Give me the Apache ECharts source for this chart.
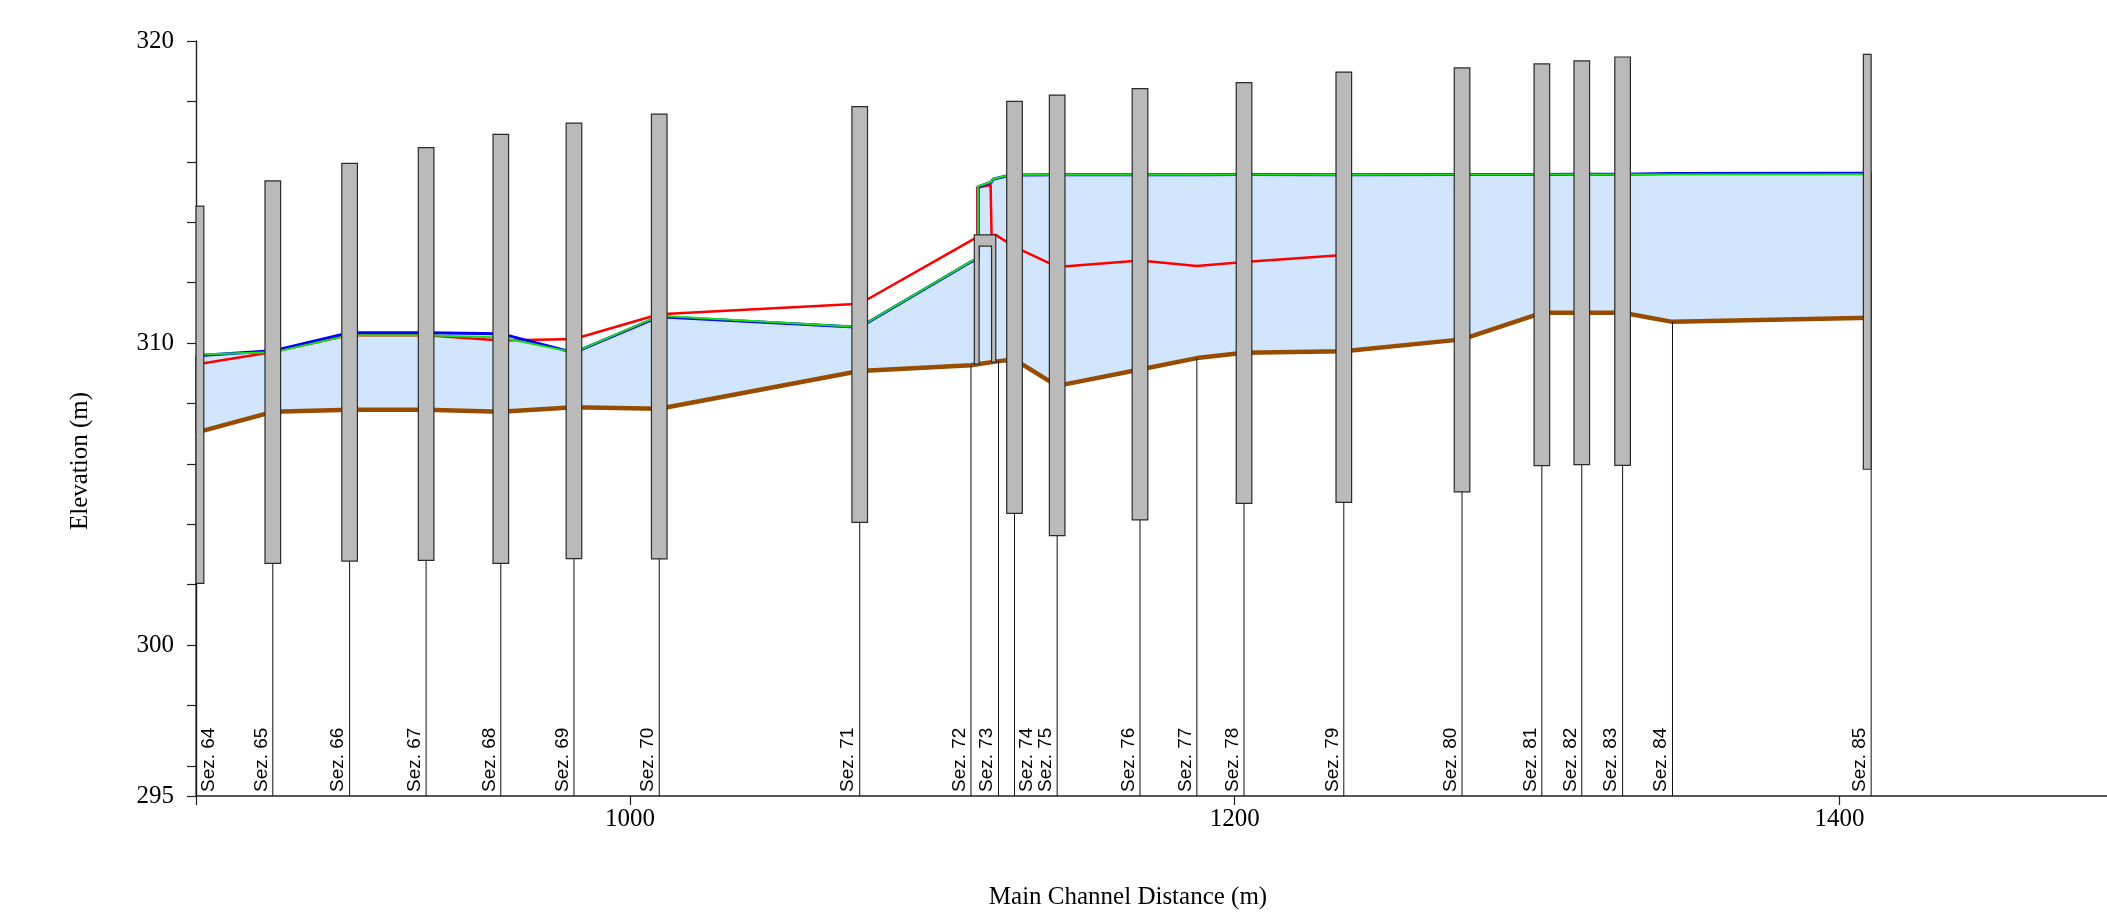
<!DOCTYPE html>
<html><head><meta charset="utf-8">
<script src="https://cdn.jsdelivr.net/npm/echarts@6/dist/echarts.min.js"></script>
<style>html,body{margin:0;padding:0;background:#fff}#c{width:2107px;height:924px}</style>
</head><body><div id="c"></div>
<script>
// ---- data ----
const sectionNames = ['Sez. 64','Sez. 65','Sez. 66','Sez. 67','Sez. 68','Sez. 69','Sez. 70','Sez. 71','Sez. 72','Sez. 73','Sez. 74','Sez. 75','Sez. 76','Sez. 77','Sez. 78','Sez. 79','Sez. 80','Sez. 81','Sez. 82','Sez. 83','Sez. 84','Sez. 85'];
const sectionDist = [856.5, 881.9, 907.3, 932.6, 957.3, 981.5, 1009.7, 1076.0, 1112.8, 1121.9, 1127.2, 1141.3, 1168.7, 1187.5, 1203.1, 1236.1, 1275.2, 1301.6, 1314.8, 1328.3, 1344.8, 1410.5];
const groundElev = [307.03, 307.72, 307.79, 307.79, 307.72, 307.87, 307.82, 309.07, 309.26, 309.40, 309.45, 308.58, 309.12, 309.50, 309.68, 309.73, 310.12, 311.00, 311.00, 311.00, 310.70, 310.84];
const barTop = [314.53, 315.37, 315.95, 316.47, 316.91, 317.28, 317.58, 317.83, null, null, 318.00, 318.21, 318.42, null, 318.62, 318.97, 319.11, 319.24, 319.34, 319.47, null, 319.56];
const barBottom = [302.04, 302.70, 302.78, 302.80, 302.70, 302.86, 302.85, 304.06, null, null, 304.36, 303.62, 304.14, null, 304.69, 304.72, 305.07, 305.94, 305.97, 305.95, null, 305.82];

const wsBlue = [[856.5,309.58],[881.9,309.74],[907.3,310.34],[932.6,310.34],[957.3,310.31],[981.5,309.68],[1009.7,310.87],[1076.0,310.52],[1112.8,312.69],[1115.2,312.80],[1115.2,315.17],[1119.6,315.33],[1120.1,315.42],[1124.5,315.53],[1127.2,315.56],[1141.3,315.57],[1168.7,315.57],[1187.5,315.57],[1203.1,315.58],[1236.1,315.57],[1275.2,315.58],[1301.6,315.58],[1314.8,315.59],[1328.3,315.59],[1344.8,315.61],[1410.5,315.62]];
const wsGreen = [[856.5,309.62],[881.9,309.69],[907.3,310.26],[932.6,310.26],[957.3,310.18],[981.5,309.69],[1009.7,310.90],[1076.0,310.53],[1112.8,312.70],[1115.1,312.81],[1115.1,315.19],[1119.6,315.34],[1120.1,315.43],[1124.5,315.54],[1127.2,315.57],[1141.3,315.57],[1168.7,315.57],[1187.5,315.57],[1203.1,315.58],[1236.1,315.57],[1275.2,315.58],[1301.6,315.58],[1314.8,315.58],[1328.3,315.58],[1344.8,315.58],[1410.5,315.59]];
const wsRed = [[856.5,309.29],[881.9,309.70],[907.3,310.26],[932.6,310.26],[957.3,310.08],[981.5,310.13],[1009.7,310.95],[1076.0,311.30],[1112.8,313.39],[1114.9,313.51],[1114.9,315.15],[1119.3,315.23],[1119.6,313.58],[1121.0,313.58],[1127.2,313.18],[1141.3,312.52],[1168.7,312.73],[1187.5,312.55],[1203.1,312.68],[1236.1,312.91]];

// bridge deck/piers: outer-left, inner-left, inner-right, outer-right distances
const bridgeX = [1113.9, 1115.5, 1119.6, 1121.0];
// deck top, deck underside, left pier foot, right pier foot
const bridgeY = [313.58, 313.21, 309.30, 309.37];

const xMin = 856.5, xMax = 1488.5, yMin = 295, yMax = 320;
const xTickValues = [856.5, 1000, 1200, 1400];
const xLabelValues = [1000, 1200, 1400];
const yTickValues = [295, 296, 298, 300, 302, 304, 306, 308, 310, 312, 314, 316, 318, 320];
const yLabelValues = [295, 300, 310, 320];

// ---- chart ----
const chart = echarts.init(document.getElementById('c'));
const SERIF = '"Liberation Serif", "Times New Roman", serif';
const SANS = '"Liberation Sans", Arial, sans-serif';
const LABEL_W = 17;

const fillSeries = {
  type: 'custom', z: 1, silent: true,
  data: [[0]],
  renderItem: function (params, api) {
    const pts = [];
    wsBlue.forEach(p => pts.push(api.coord(p)));
    for (let i = sectionDist.length - 1; i >= 0; i--) pts.push(api.coord([sectionDist[i], groundElev[i]]));
    return { type: 'polygon', shape: { points: pts }, style: { fill: 'rgb(209,230,252)', stroke: '#2626c8', lineWidth: 1.5 } };
  }
};

function lineSeries(data, color, width, z) {
  return { type: 'line', data: data, showSymbol: false, symbol: 'none', z: z, silent: true,
    lineStyle: { color: color, width: width, join: 'round' } };
}

const groundData = sectionDist.map((d, i) => [d, groundElev[i]]);

const sectionSeries = {
  type: 'custom', z: 7, silent: true,
  data: sectionDist.map((d, i) => [d, groundElev[i], i]),
  renderItem: function (params, api) {
    const d = api.value(0), g = api.value(1), idx = api.value(2);
    const top = api.coord([d, g]);
    const bot = api.coord([d, yMin]);
    const prevX = idx === 0 ? bot[0] : api.coord([sectionDist[idx - 1], yMin])[0];
    const right = (bot[0] - prevX) < LABEL_W + 1;
    return { type: 'group', children: [
      { type: 'line', shape: { x1: top[0], y1: top[1], x2: bot[0], y2: bot[1] }, style: { stroke: '#111', lineWidth: 1 } },
      { type: 'text', x: right ? bot[0] + 3 : bot[0] - 2, y: bot[1] - 4, rotation: Math.PI / 2,
        style: { text: sectionNames[idx], x: 0, y: 0, align: 'left', verticalAlign: right ? 'top' : 'bottom',
          font: '19px ' + SANS, fill: '#000' } }
    ] };
  }
};

const barIdx = [];
barTop.forEach((t, i) => { if (t !== null) barIdx.push(i); });
const barSeries = {
  type: 'custom', z: 8, silent: true,
  data: barIdx.map(i => [sectionDist[i], barTop[i], barBottom[i]]),
  renderItem: function (params, api) {
    const d = api.value(0);
    const p1 = api.coord([d, api.value(1)]);
    const p2 = api.coord([d, api.value(2)]);
    const lo = api.coord([sectionDist[0], yMin])[0];
    const hi = api.coord([sectionDist[sectionDist.length - 1], yMin])[0];
    const x0 = Math.max(p1[0] - 7.8, lo), x1 = Math.min(p1[0] + 7.8, hi);
    return { type: 'rect', shape: { x: x0, y: p1[1], width: x1 - x0, height: p2[1] - p1[1] },
      style: { fill: '#bababa', stroke: '#2b2b2b', lineWidth: 1.2 } };
  }
};

const bridgeSeries = {
  type: 'custom', z: 9, silent: true,
  data: [[bridgeX[0], bridgeY[0]]],
  renderItem: function (params, api) {
    const c = (x, y) => api.coord([x, y]);
    const pts = [
      c(bridgeX[0], bridgeY[2]), c(bridgeX[0], bridgeY[0]), c(bridgeX[3], bridgeY[0]), c(bridgeX[3], bridgeY[3]),
      c(bridgeX[2], bridgeY[3]), c(bridgeX[2], bridgeY[1]), c(bridgeX[1], bridgeY[1]), c(bridgeX[1], bridgeY[2])
    ];
    return { type: 'polygon', shape: { points: pts }, style: { fill: '#bababa', stroke: '#2b2b2b', lineWidth: 1.2 } };
  }
};

chart.setOption({
  animation: false,
  backgroundColor: '#fff',
  grid: { left: 196, right: 0, top: 41, bottom: 128, containLabel: false },
  xAxis: {
    type: 'value', min: xMin, max: xMax,
    axisLine: { show: true, onZero: false, lineStyle: { color: '#222', width: 1.6 } },
    axisTick: { show: true, customValues: xTickValues, length: 9, lineStyle: { color: '#222', width: 1.2 } },
    axisLabel: { customValues: xLabelValues, formatter: v => String(v), fontFamily: SERIF, fontSize: 25, color: '#000', margin: 11 },
    splitLine: { show: false }
  },
  yAxis: {
    type: 'value', min: yMin, max: yMax,
    axisLine: { show: true, onZero: false, lineStyle: { color: '#222', width: 1.4 } },
    axisTick: { show: true, customValues: yTickValues, length: 9, lineStyle: { color: '#222', width: 1.2 } },
    axisLabel: { customValues: yLabelValues, formatter: v => String(v), fontFamily: SERIF, fontSize: 25, color: '#000', margin: 22 },
    splitLine: { show: false }
  },
  graphic: [
    { type: 'text', x: 1128, y: 897, style: { text: 'Main Channel Distance (m)', font: '25px ' + SERIF, fill: '#000', align: 'center', verticalAlign: 'middle' } },
    { type: 'text', x: 80, y: 461, rotation: Math.PI / 2, style: { text: 'Elevation (m)', font: '25px ' + SERIF, fill: '#000', align: 'center', verticalAlign: 'middle' } }
  ],
  series: [
    fillSeries,
    lineSeries(groundData, '#994c00', 4.5, 3),
    lineSeries(wsRed, '#ff0000', 2.5, 4),
    lineSeries(wsBlue, '#0000ff', 3, 5),
    lineSeries(wsGreen, '#18e018', 2, 6),
    sectionSeries,
    barSeries,
    bridgeSeries
  ]
});
</script></body></html>
